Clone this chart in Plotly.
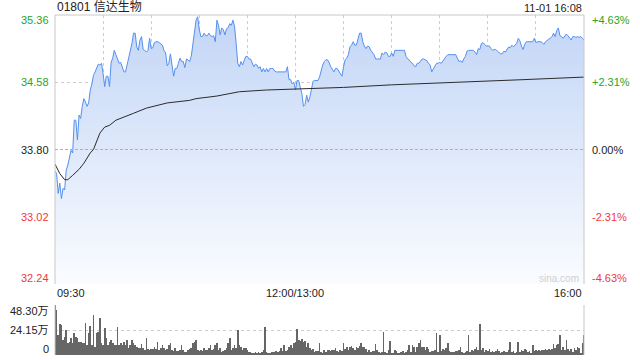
import plotly.graph_objects as go

# ---------------- data ----------------
stock_title = "01801 信达生物"
stamp = "11-01 16:08"

# per-minute price (minute 0 = 09:30, 150 = 12:00/13:00, 330 = 16:00)
price = [
    33.55, 33.52, 33.29, 33.41, 33.23, 33.35, 33.33, 33.56, 33.62, 33.72,
    33.79, 33.76, 34.14, 34.14, 33.91, 34.20, 34.16, 34.30, 34.39, 34.35,
    34.30, 34.34, 34.49, 34.56, 34.66, 34.70, 34.75, 34.79, 34.78, 34.80,
    34.68, 34.53, 34.65, 34.65, 34.53, 34.81, 34.86, 34.95, 34.90, 34.84,
    34.80, 34.81, 34.74, 34.70, 34.70, 34.78, 34.85, 34.92, 35.03, 35.15,
    35.15, 34.99, 34.95, 35.07, 35.11, 34.96, 34.95, 34.93, 34.95, 35.09,
    34.97, 34.98, 35.04, 35.05, 35.05, 35.04, 35.02, 35.01, 34.95, 34.92,
    34.77, 34.80, 34.91, 34.76, 34.65, 34.74, 34.74, 34.80, 34.86, 34.82,
    34.82, 34.75, 34.85, 34.84, 34.82, 34.88, 35.03, 35.11, 35.30, 35.34,
    35.19, 35.11, 35.11, 35.15, 35.12, 35.12, 35.15, 35.12, 35.11, 35.12,
    35.05, 35.30, 35.24, 35.13, 35.21, 35.19, 35.13, 35.20, 35.21, 35.26,
    35.24, 35.30, 35.23, 35.03, 34.80, 34.76, 34.82, 34.78, 34.83, 34.88,
    34.88, 34.85, 34.85, 34.81, 34.76, 34.79, 34.78, 34.74, 34.76, 34.70,
    34.74, 34.70, 34.74, 34.70, 34.74, 34.74, 34.74, 34.71, 34.70, 34.70,
    34.70, 34.70, 34.70, 34.70, 34.70, 34.76, 34.61, 34.61, 34.56, 34.58,
    34.49, 34.60, 34.60, 34.52, 34.45, 34.30, 34.32, 34.43, 34.35, 34.41,
    34.51, 34.59, 34.60, 34.60, 34.60, 34.64, 34.72, 34.78, 34.82, 34.84,
    34.84, 34.81, 34.76, 34.73, 34.70, 34.74, 34.74, 34.71, 34.68, 34.65,
    34.76, 34.84, 34.86, 34.90, 34.99, 35.01, 35.05, 35.01, 35.01, 35.08,
    35.15, 35.15, 35.05, 35.00, 34.97, 35.00, 34.99, 34.95, 34.92, 34.90,
    34.85, 34.85, 34.85, 34.85, 34.92, 34.90, 34.93, 34.92, 34.88, 34.88,
    34.92, 34.88, 34.95, 34.95, 34.95, 34.95, 34.95, 34.95, 34.95, 34.88,
    34.85, 34.84, 34.81, 34.80, 34.77, 34.76, 34.80, 34.80, 34.83, 34.85,
    34.85, 34.84, 34.83, 34.80, 34.78, 34.70, 34.74, 34.76, 34.80, 34.80,
    34.81, 34.80, 34.83, 34.85, 34.88, 34.90, 34.90, 34.90, 34.90, 34.90,
    34.90, 34.86, 34.82, 34.83, 34.81, 34.85, 34.88, 34.94, 34.95, 34.95,
    34.95, 34.95, 34.93, 34.90, 34.97, 34.96, 35.03, 35.04, 35.02, 35.00,
    35.00, 35.00, 34.97, 34.95, 34.96, 34.96, 34.94, 34.92, 34.91, 34.91,
    34.94, 34.93, 34.96, 34.99, 34.98, 35.01, 34.99, 35.01, 35.03, 35.09,
    35.06, 35.00, 34.96, 35.02, 35.05, 35.05, 35.05, 35.05, 35.05, 35.09,
    35.04, 35.05, 35.05, 35.05, 35.04, 35.02, 35.05, 35.07, 35.08, 35.09,
    35.11, 35.15, 35.11, 35.18, 35.21, 35.12, 35.11, 35.09, 35.12, 35.14,
    35.12, 35.10, 35.07, 35.11, 35.11, 35.10, 35.11, 35.10, 35.11, 35.09,
    35.07,
]

# average price line (minute, value)
avg_minutes = [0, 3, 6, 8, 11, 15, 18, 22, 24, 26, 28, 31, 34, 38, 41, 47, 49, 57,
               70, 84, 88, 101, 115, 132, 150, 180, 210, 240, 261, 292, 330]
avg_price = [33.63, 33.52, 33.45, 33.45, 33.50, 33.57, 33.64, 33.76, 33.80, 33.89,
             33.99, 34.06, 34.08, 34.14, 34.16, 34.20, 34.22, 34.28,
             34.34, 34.37, 34.39, 34.42, 34.47, 34.49, 34.50, 34.52, 34.55, 34.57,
             34.59, 34.61, 34.64]

# per-minute volume, in 万 shares
volume_am = [
    48.3, 43.5, 19.3, 29.6, 29.0, 14.5, 17.7, 24.2, 11.9, 12.9,
    16.1, 11.3, 20.9, 17.1, 16.1, 12.9, 12.9, 11.3, 11.3, 30.6,
    9.7, 21.6, 28.0, 9.7, 38.6, 8.0,
    20.9, 22.5, 35.4, 11.3, 9.7, 25.8, 16.1, 9.7, 12.9, 14.5,
    11.3, 9.7, 9.7, 27.4, 9.7, 11.3, 9.7, 12.9, 9.7, 14.5,
    6.4, 9.7, 14.5, 11.3, 9.7, 8.1, 7.0,
    6.4, 10.6, 6.4, 4.8, 16.1, 5.5, 4.8, 5.5, 5.5, 8.1,
    5.5, 12.9, 4.8, 6.4, 9.7, 6.4, 4.8, 5.5, 9.7, 11.3,
    4.8, 4.2, 6.4, 3.9, 4.2, 5.0,
    9.7, 4.8, 2.9, 3.2, 4.8, 5.5, 6.4, 11.3, 12.9, 14.5,
    4.8, 3.9, 4.8, 3.9, 6.4, 4.8, 4.8, 6.4, 9.7, 4.8, 5.5,
    9.7, 11.3, 4.8, 6.4, 3.2, 4.0,
    4.8, 6.4, 11.3, 16.1, 4.8, 6.4, 9.7, 6.4, 24.2, 9.7,
    8.1, 4.8, 6.4, 6.4, 4.8, 3.0,
    3.2, 2.3, 2.3, 2.9, 2.3, 2.6, 2.3, 3.2, 4.8, 26.7,
    3.2, 2.3, 1.6, 2.9, 3.2, 3.2, 4.2, 3.2, 3.9, 6.4,
    3.9, 9.7, 4.2, 4.8, 7.4, 9.7, 6.4, 11.3, 12.9, 24.8,
    14.5, 13.5, 15.1, 12.9, 13.8, 8.1, 11.3, 6.4, 4.8, 5.5,
    3.2, 3.9, 3.5,
]
volume_pm = [
    11.3, 3.2, 2.3, 4.8, 3.2, 4.8, 4.8, 4.2, 4.8, 4.8, 6.4, 4.0,
    3.2, 4.8, 4.2, 11.3, 5.5, 8.1, 4.8, 8.1, 8.7, 6.4, 5.0,
    7.4, 6.4, 8.7, 11.3, 7.4, 8.1, 5.5, 3.2, 4.8, 3.2, 4.0,
    3.9, 10.6, 4.8, 3.2, 2.3, 3.2, 21.9, 3.2, 2.3, 4.8,
    13.5, 1.6, 2.3, 4.8, 4.2, 2.3, 1.6, 3.2, 3.9, 2.3, 3.0,
    4.8, 9.7, 3.2, 9.7, 8.1, 3.2, 8.1, 11.3, 14.5, 8.1,
    7.4, 4.8, 7.4, 5.5, 3.2, 4.2, 4.2, 4.8, 20.9, 3.2,
    19.3, 4.2, 5.5, 4.8, 6.4, 11.3, 4.2, 3.2, 3.2, 3.2, 3.5,
    3.9, 4.8, 7.4, 3.2, 2.3, 3.2, 3.9, 19.3, 3.2, 4.8,
    3.9, 5.5, 7.4, 4.8, 29.9, 4.8, 6.4, 3.2, 4.8, 3.9,
    5.5, 3.2, 3.9, 3.2, 3.9, 5.5, 3.9, 2.3, 3.2, 4.2, 3.0,
    2.6, 4.8, 12.2, 3.2, 4.2, 2.3, 3.2, 12.2, 3.2, 4.8,
    3.9, 5.5, 4.8, 3.2, 3.9, 2.3, 9.7, 3.9, 4.8, 4.2, 4.5,
    4.2, 4.8, 4.8, 5.5, 4.8, 5.5, 4.8, 5.5, 10.6, 6.4,
    9.7, 10.6, 19.3, 4.8, 8.1, 4.8, 14.5, 5.5, 4.2, 5.5,
    3.2, 6.4, 4.8, 7.4, 6.4, 2.3, 11.3, 19.3,
]
volume = volume_am + volume_pm

price_ticks = [32.24, 33.02, 33.80, 34.58, 35.36]
pct_labels = ["-4.63%", "-2.31%", "0.00%", "+2.31%", "+4.63%"]
vol_ticks = [0, 24.15, 48.30]
vol_labels = ["0", "24.15万", "48.30万"]
time_ticks = [0, 150, 330]
time_labels = ["09:30", "12:00/13:00", "16:00"]
prev_close = 33.80

# ---------------- styling ----------------
W, H = 640, 360
X0, X1 = 55, 584
MAIN_TOP, MAIN_BOT = 15, 284
VOL_TOP, VOL_BOT = 305, 355
GREEN, RED, DARK = "#27a527", "#ee3a3a", "#222222"
GRID = "#cccccc"
FONT = "Liberation Sans, Arial, Noto Sans CJK SC"

def py(pix):
    return 1 - pix / H

minutes = list(range(len(price)))
vminutes = list(range(len(volume)))

fig = go.Figure()

fig.add_trace(go.Scatter(
    x=minutes, y=price, mode="lines",
    line=dict(color="#5590ee", width=1),
    fill="tozeroy",
    fillgradient=dict(type="vertical", start=price_ticks[0], stop=price_ticks[-1],
                      colorscale=[[0, "rgba(250,252,255,1)"], [1, "rgba(194,213,246,1)"]]),
    xaxis="x", yaxis="y", hoverinfo="skip", showlegend=False,
))
fig.add_trace(go.Scatter(
    x=avg_minutes, y=avg_price, mode="lines",
    line=dict(color="#2b2b2b", width=1),
    xaxis="x", yaxis="y", hoverinfo="skip", showlegend=False,
))
fig.add_trace(go.Bar(
    x=vminutes, y=volume, width=0.45,
    marker=dict(color="#666666", line=dict(width=0)),
    xaxis="x2", yaxis="y2", hoverinfo="skip", showlegend=False,
))

xdom = [X0 / W, X1 / W]
fig.update_layout(
    width=W, height=H,
    margin=dict(l=0, r=0, t=0, b=0),
    paper_bgcolor="white", plot_bgcolor="rgba(0,0,0,0)",
    font=dict(family=FONT, size=11, color=DARK),
    bargap=0,
    xaxis=dict(domain=xdom, range=[0, 330], tickvals=list(range(30, 330, 30)),
               showticklabels=False, showgrid=True, gridcolor=GRID, griddash="dot",
               gridwidth=1, zeroline=False, showline=False, ticks="", anchor="y"),
    yaxis=dict(domain=[py(MAIN_BOT), py(MAIN_TOP)], range=[price_ticks[0], price_ticks[-1]],
               tickvals=[price_ticks[1], price_ticks[3]], showticklabels=False, showgrid=True,
               gridcolor=GRID, griddash="dot", zeroline=False, showline=False, ticks="",
               anchor="x"),
    xaxis2=dict(domain=xdom, range=[0, 330], showticklabels=False, showgrid=False,
                zeroline=False, showline=False, ticks="", anchor="y2"),
    yaxis2=dict(domain=[py(VOL_BOT), py(VOL_TOP)], range=[0, vol_ticks[-1]],
                tickvals=vol_ticks[1:], showticklabels=False, showgrid=True,
                gridcolor=GRID, griddash="dot", zeroline=False, showline=False, ticks="",
                anchor="x2"),
)

shapes = []
border = "#c8c8c8"
# main panel border: left, top, right
shapes.append(dict(type="line", xref="paper", yref="paper", x0=X0 / W, x1=X0 / W,
                   y0=py(MAIN_BOT), y1=py(MAIN_TOP), line=dict(color=border, width=1)))
shapes.append(dict(type="line", xref="paper", yref="paper", x0=X0 / W, x1=X1 / W,
                   y0=py(MAIN_TOP), y1=py(MAIN_TOP), line=dict(color=border, width=1)))
shapes.append(dict(type="line", xref="paper", yref="paper", x0=X1 / W, x1=X1 / W,
                   y0=py(MAIN_BOT), y1=py(MAIN_TOP), line=dict(color=border, width=1)))
# previous close line
shapes.append(dict(type="line", xref="x", yref="y", x0=0, x1=330, y0=prev_close, y1=prev_close,
                   line=dict(color="#b0b0b0", width=1, dash="3px,2px")))
# volume panel border: left, right
shapes.append(dict(type="line", xref="paper", yref="paper", x0=X0 / W, x1=X0 / W,
                   y0=py(VOL_BOT), y1=py(VOL_TOP), line=dict(color=border, width=1)))
shapes.append(dict(type="line", xref="paper", yref="paper", x0=X1 / W, x1=X1 / W,
                   y0=py(VOL_BOT), y1=py(VOL_TOP), line=dict(color=border, width=1)))
fig.update_layout(shapes=shapes)

ann = []
# title and timestamp
ann.append(dict(text=stock_title, xref="paper", yref="paper", x=X0 / W, y=py(7),
                xanchor="left", yanchor="middle", showarrow=False,
                font=dict(size=12, color=DARK, family=FONT)))
ann.append(dict(text=stamp, xref="paper", yref="paper", x=X1 / W, y=py(7.5),
                xanchor="right", yanchor="middle", showarrow=False,
                font=dict(size=11, color=DARK, family=FONT)))
# price labels (left) and percent labels (right)
shifts = [6, 0, 0, 0, -5]
for i, (v, p) in enumerate(zip(price_ticks, pct_labels)):
    col = RED if v < prev_close else (GREEN if v > prev_close else DARK)
    ann.append(dict(text=f"{v:.2f}", xref="paper", yref="y", x=51 / W, y=v, yshift=shifts[i],
                    xanchor="right", yanchor="middle", showarrow=False,
                    font=dict(size=11, color=col)))
    ann.append(dict(text=p, xref="paper", yref="y", x=590 / W, y=v, yshift=shifts[i],
                    xanchor="left", yanchor="middle", showarrow=False,
                    font=dict(size=11, color=col)))
# time labels
anchors = ["left", "center", "right"]
for t, lab, a in zip(time_ticks, time_labels, anchors):
    ann.append(dict(text=lab, xref="x", yref="paper", x=t, y=py(293),
                    xanchor=a, yanchor="middle", showarrow=False,
                    font=dict(size=11, color=DARK)))
# volume labels
vshifts = [6, 0, -6]
for v, lab, s in zip(vol_ticks, vol_labels, vshifts):
    ann.append(dict(text=lab, xref="paper", yref="y2", x=51 / W, y=v, yshift=s,
                    xanchor="right", yanchor="middle", showarrow=False,
                    font=dict(size=11, color=DARK)))
# watermark
ann.append(dict(text="sina.com", xref="paper", yref="paper", x=581 / W, y=py(278),
                xanchor="right", yanchor="middle", showarrow=False,
                font=dict(size=10, color="#d0d0d0")))
fig.update_layout(annotations=ann)

fig.write_html("out.html")
